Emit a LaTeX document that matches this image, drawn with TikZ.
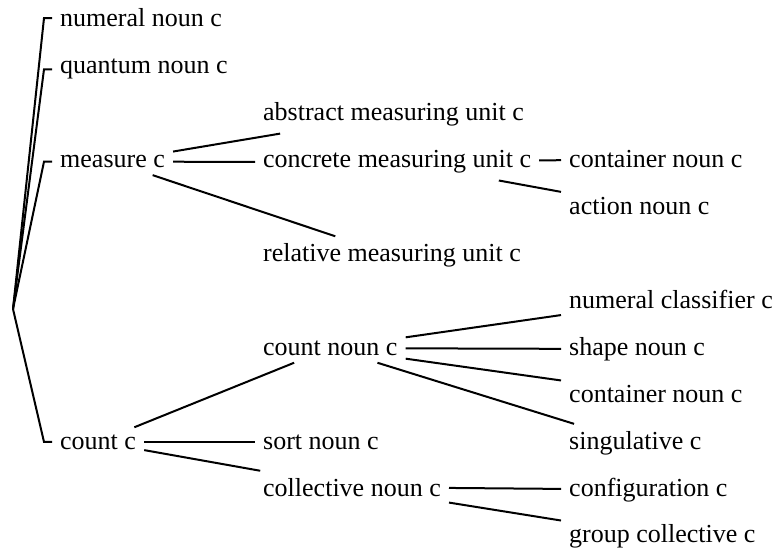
\documentclass[tikz,border=0pt]{standalone}
\usepackage{fontspec}
\setmainfont{Liberation Serif}
\usepackage{tikz}
\tikzstyle{term}=[anchor=base west, inner xsep=8pt, inner ysep=7pt, font=\fontsize{26}{31}\selectfont]
\tikzstyle{edge}=[draw=black, line width=2pt]
\pgfdeclarelayer{nodelayer}
\pgfdeclarelayer{edgelayer}
\pgfsetlayers{edgelayer,nodelayer,main}

\begin{document}
\begin{tikzpicture}[x=1pt, y=-1pt]
	\useasboundingbox (0, 0) rectangle (776, 548);
	\begin{pgfonlayer}{nodelayer}
		\coordinate (root) at (13, 309);
		\node [style=term] (0) at (52, 27) {numeral noun c};
		\node [style=term] (1) at (52, 73.9) {quantum noun c};
		\node [style=term] (2) at (52, 167.7) {measure c};
		\node [style=term] (3) at (52, 449.1) {count c};
		\node [style=term] (4) at (255, 120.8) {abstract measuring unit c};
		\node [style=term] (5) at (255, 167.7) {concrete measuring unit c};
		\node [style=term] (6) at (255, 261.5) {relative measuring unit c};
		\node [style=term] (7) at (255, 355.3) {count noun c};
		\node [style=term] (8) at (255, 449.1) {sort noun c};
		\node [style=term] (9) at (255, 496) {collective noun c};
		\node [style=term] (10) at (561, 167.7) {container noun c};
		\node [style=term] (11) at (561, 214.6) {action noun c};
		\node [style=term] (12) at (561, 308.4) {numeral classifier c};
		\node [style=term] (13) at (561, 355.3) {shape noun c};
		\node [style=term] (14) at (561, 402.2) {container noun c};
		\node [style=term] (15) at (561, 449.1) {singulative c};
		\node [style=term] (16) at (561, 496) {configuration c};
		\node [style=term] (17) at (561, 542.9) {group collective c};
	\end{pgfonlayer}
	\begin{pgfonlayer}{edgelayer}
		% root to the four top terms, with a short hook
		\draw [style=edge] (root) -- ([xshift=-8pt]0.west) -- (0.west);
		\draw [style=edge] (root) -- ([xshift=-8pt]1.west) -- (1.west);
		\draw [style=edge] (root) -- ([xshift=-8pt]2.west) -- (2.west);
		\draw [style=edge] (root) -- ([xshift=-8pt]3.west) -- (3.west);
		\draw [style=edge] (2) to (4);
		\draw [style=edge] (2) to (5);
		\draw [style=edge] (2) to (6);
		\draw [style=edge] (5) to (10);
		\draw [style=edge] (5) to (11);
		\draw [style=edge] (3) to (7);
		\draw [style=edge] (3) to (8);
		\draw [style=edge] (3) to (9);
		\draw [style=edge] (7) to (12);
		\draw [style=edge] (7) to (13);
		\draw [style=edge] (7) to (14);
		\draw [style=edge] (7) to (15);
		\draw [style=edge] (9) to (16);
		\draw [style=edge] (9) to (17);
	\end{pgfonlayer}
\end{tikzpicture}
\end{document}
